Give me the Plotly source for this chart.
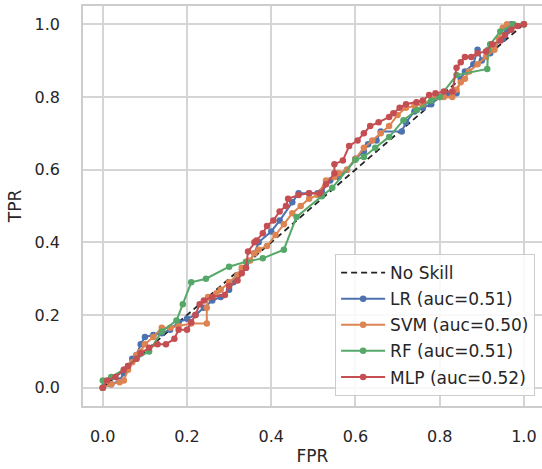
import plotly.graph_objects as go

# ---------------- data ----------------
skill_fpr = [0.0, 1.0]
skill_tpr = [0.0, 1.0]

lr_fpr = [0.00, 0.02, 0.04, 0.05, 0.06, 0.07, 0.08, 0.09, 0.10, 0.12, 0.14, 0.16, 0.18, 0.20,
          0.22, 0.24, 0.26, 0.28, 0.30, 0.31, 0.32, 0.34, 0.36, 0.37, 0.40, 0.42, 0.45, 0.465,
          0.49, 0.51, 0.52, 0.54, 0.56, 0.58, 0.60, 0.62, 0.63, 0.65, 0.66, 0.71, 0.72, 0.74,
          0.76, 0.78, 0.80, 0.82, 0.84, 0.85, 0.86, 0.88, 0.89, 0.90, 0.92, 0.93, 0.95, 0.96,
          0.97, 1.00]
lr_tpr = [0.00, 0.01, 0.02, 0.04, 0.06, 0.08, 0.09, 0.12, 0.14, 0.145, 0.15, 0.16, 0.18, 0.19,
          0.20, 0.22, 0.24, 0.25, 0.27, 0.29, 0.31, 0.33, 0.37, 0.40, 0.43, 0.46, 0.51, 0.535,
          0.535, 0.535, 0.54, 0.57, 0.58, 0.60, 0.63, 0.65, 0.67, 0.68, 0.705, 0.705, 0.73, 0.76,
          0.77, 0.78, 0.80, 0.805, 0.81, 0.85, 0.87, 0.89, 0.93, 0.90, 0.92, 0.94, 0.96, 0.98,
          1.00, 1.00]

svm_fpr = [0.00, 0.02, 0.04, 0.05, 0.06, 0.07, 0.08, 0.09, 0.10, 0.12, 0.14, 0.16, 0.18, 0.21,
           0.247, 0.247, 0.25, 0.27, 0.28, 0.30, 0.32, 0.33, 0.35, 0.36, 0.37, 0.39, 0.41, 0.43,
           0.45, 0.47, 0.49, 0.51, 0.53, 0.55, 0.56, 0.58, 0.60, 0.62, 0.64, 0.66, 0.68, 0.70,
           0.72, 0.74, 0.76, 0.79, 0.81, 0.83, 0.84, 0.85, 0.86, 0.87, 0.89, 0.91, 0.93, 0.94,
           0.95, 0.96, 1.00]
svm_tpr = [0.00, 0.01, 0.015, 0.02, 0.05, 0.07, 0.09, 0.10, 0.12, 0.14, 0.165, 0.165, 0.17, 0.177,
           0.177, 0.22, 0.25, 0.26, 0.27, 0.29, 0.31, 0.33, 0.35, 0.37, 0.38, 0.39, 0.42, 0.45,
           0.48, 0.50, 0.52, 0.53, 0.57, 0.58, 0.59, 0.60, 0.63, 0.66, 0.68, 0.70, 0.72, 0.75,
           0.77, 0.775, 0.78, 0.80, 0.80, 0.80, 0.82, 0.84, 0.85, 0.87, 0.89, 0.91, 0.93, 0.96,
           0.99, 1.00, 1.00]

rf_fpr = [0.00, 0.00, 0.02, 0.05, 0.08, 0.11, 0.14, 0.175, 0.19, 0.21, 0.245, 0.30, 0.34, 0.38,
          0.43, 0.46, 0.52, 0.545, 0.60, 0.62, 0.647, 0.68, 0.714, 0.746, 0.78, 0.80, 0.84, 0.913,
          0.915, 0.92, 0.944, 0.975, 1.00]
rf_tpr = [0.00, 0.02, 0.03, 0.05, 0.08, 0.10, 0.155, 0.185, 0.23, 0.29, 0.30, 0.333, 0.347, 0.356,
          0.38, 0.47, 0.527, 0.55, 0.627, 0.635, 0.66, 0.69, 0.736, 0.764, 0.79, 0.80, 0.86, 0.877,
          0.93, 0.945, 0.98, 1.00, 1.00]

mlp_fpr = [0.00, 0.01, 0.03, 0.05, 0.06, 0.08, 0.09, 0.11, 0.13, 0.15, 0.17, 0.18, 0.20, 0.21,
           0.22, 0.23, 0.24, 0.26, 0.29, 0.30, 0.32, 0.33, 0.34, 0.345, 0.36, 0.365, 0.38, 0.39,
           0.405, 0.42, 0.435, 0.44, 0.465, 0.49, 0.515, 0.53, 0.55, 0.55, 0.57, 0.585, 0.605, 0.62,
           0.635, 0.655, 0.68, 0.69, 0.705, 0.72, 0.745, 0.76, 0.775, 0.79, 0.81, 0.83, 0.84, 0.85,
           0.86, 0.875, 0.89, 0.91, 0.925, 0.945, 0.955, 0.97, 0.985, 1.00]
mlp_tpr = [0.00, 0.02, 0.03, 0.05, 0.06, 0.08, 0.095, 0.11, 0.12, 0.12, 0.135, 0.16, 0.16, 0.18,
           0.20, 0.23, 0.24, 0.25, 0.255, 0.28, 0.295, 0.315, 0.33, 0.375, 0.40, 0.405, 0.425, 0.445,
           0.46, 0.485, 0.50, 0.52, 0.53, 0.535, 0.535, 0.56, 0.59, 0.615, 0.625, 0.665, 0.68, 0.70,
           0.72, 0.73, 0.745, 0.755, 0.77, 0.78, 0.785, 0.79, 0.805, 0.81, 0.815, 0.815, 0.88, 0.895,
           0.91, 0.91, 0.92, 0.925, 0.945, 0.955, 0.97, 0.985, 0.995, 1.00]

series_names = ["LR (auc=0.51)", "SVM (auc=0.50)", "RF (auc=0.51)", "MLP (auc=0.52)"]
series_colors = ["#4c72b0", "#dd8452", "#55a868", "#c44e52"]
series_x = [lr_fpr, svm_fpr, rf_fpr, mlp_fpr]
series_y = [lr_tpr, svm_tpr, rf_tpr, mlp_tpr]

x_ticks = [0.0, 0.2, 0.4, 0.6, 0.8, 1.0]
y_ticks = [0.0, 0.2, 0.4, 0.6, 0.8, 1.0]
tick_text = ["0.0", "0.2", "0.4", "0.6", "0.8", "1.0"]

# ---------------- figure ----------------
FONT = "DejaVu Sans"
TXT = "#262626"
GRID = "#d5d5d5"

fig = go.Figure()
fig.add_trace(go.Scatter(x=skill_fpr, y=skill_tpr, mode="lines", name="No Skill",
                         line=dict(color="#222222", width=1.8, dash="6px,4px"),
                         legendgroup="g0"))
for i, (nm, col, xs, ys) in enumerate(zip(series_names, series_colors, series_x, series_y)):
    fig.add_trace(go.Scatter(x=xs, y=ys, mode="lines+markers", name=nm,
                             line=dict(color=col, width=2),
                             marker=dict(color=col, size=6.5),
                             legendgroup=f"g{i+1}"))

fig.update_layout(
    width=542, height=469,
    margin=dict(l=83, r=0, t=6, b=63),
    paper_bgcolor="white", plot_bgcolor="white",
    font=dict(family=FONT, size=17, color=TXT),
    showlegend=True,
    legend=dict(x=0.985, y=0.025, xanchor="right", yanchor="bottom",
                bgcolor="rgba(255,255,255,0.85)", bordercolor="#cccccc", borderwidth=1,
                font=dict(family=FONT, size=17, color=TXT),
                tracegroupgap=1, traceorder="grouped", itemwidth=44),
)
fig.update_xaxes(range=[-0.047, 1.043], tickvals=x_ticks, ticktext=tick_text,
                 showgrid=True, gridcolor=GRID, gridwidth=1.5,
                 showline=True, linecolor="#cccccc", linewidth=1.5, mirror=True,
                 zeroline=False, ticks="", ticklabelstandoff=15, automargin=False,
                 title=dict(text="FPR", font=dict(size=17, color=TXT), standoff=5),
                 tickfont=dict(size=16, color=TXT))
fig.update_yaxes(range=[-0.05, 1.05], tickvals=y_ticks, ticktext=tick_text,
                 showgrid=True, gridcolor=GRID, gridwidth=1.5,
                 showline=True, linecolor="#cccccc", linewidth=1.5, mirror=False,
                 zeroline=False, ticks="", ticklabelstandoff=18, automargin=False,
                 title=dict(text="TPR", font=dict(size=17, color=TXT), standoff=9),
                 tickfont=dict(size=16, color=TXT))

fig.write_html("out.html", config={"displayModeBar": False},
               post_script="document.body.style.margin='0';document.body.style.padding='0';")
